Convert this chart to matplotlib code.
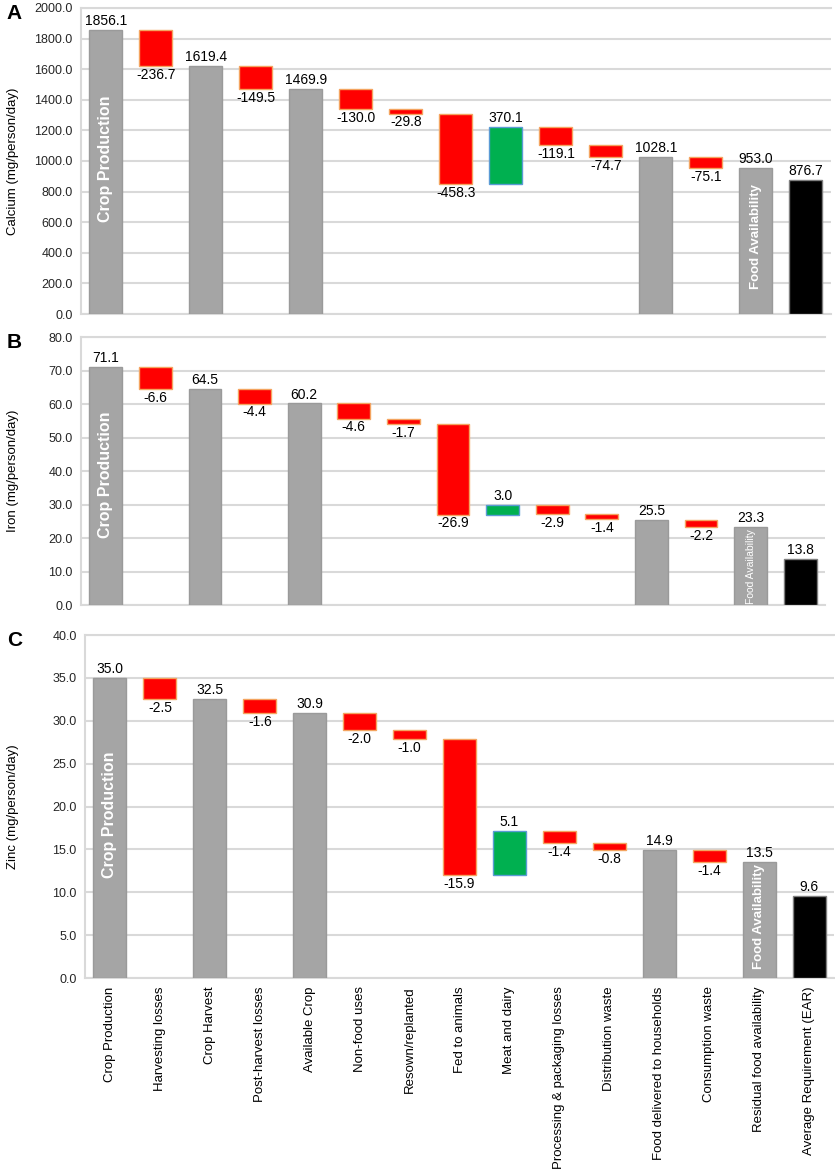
import numpy as np
import matplotlib
matplotlib.use("Agg")
import matplotlib.pyplot as plt

plt.rcParams['font.family'] = ['Liberation Sans', 'DejaVu Sans']

categories = ["Crop Production", "Harvesting losses", "Crop Harvest", "Post-harvest losses",
              "Available Crop", "Non-food uses", "Resown/replanted", "Fed to animals",
              "Meat and dairy", "Processing & packaging losses", "Distribution waste",
              "Food delivered to households", "Consumption waste", "Residual food availability",
              "Average Requirement (EAR)"]
kinds = ["total", "loss", "total", "loss", "total", "loss", "loss", "loss",
         "gain", "loss", "loss", "total", "loss", "total", "ear"]

calcium = [1856.1, -236.7, 1619.4, -149.5, 1469.9, -130.0, -29.8, -458.3,
           370.1, -119.1, -74.7, 1028.1, -75.1, 953.0, 876.7]
iron = [71.1, -6.6, 64.5, -4.4, 60.2, -4.6, -1.7, -26.9,
        3.0, -2.9, -1.4, 25.5, -2.2, 23.3, 13.8]
zinc = [35.0, -2.5, 32.5, -1.6, 30.9, -2.0, -1.0, -15.9,
        5.1, -1.4, -0.8, 14.9, -1.4, 13.5, 9.6]

panels = [
    # letter, values, ylabel, ymax, ystep, axes rect
    ("A", calcium, "Calcium (mg/person/day)", 2000, 200, [0.097, 0.7323, 0.898, 0.2609]),
    ("B", iron, "Iron (mg/person/day)", 80, 10, [0.097, 0.4842, 0.891, 0.2285]),
    ("C", zinc, "Zinc (mg/person/day)", 40, 5, [0.1018, 0.1662, 0.897, 0.2924]),
]

GREY = "#A5A5A5"
RED = "#FF0000"
GREEN = "#00B050"
GRID = "#D9D9D9"

fig = plt.figure(figsize=(8.35, 11.73), dpi=100)

for letter, vals, ylab, ymax, ystep, rect in panels:
    ax = fig.add_axes(rect)
    x = np.arange(len(vals))
    bottoms, heights, colors, edges = [], [], [], []
    running = 0.0
    for v, k in zip(vals, kinds):
        if k == "total":
            bottoms.append(0); heights.append(v); colors.append(GREY); edges.append("#9A9A9A")
            running = v
        elif k == "ear":
            bottoms.append(0); heights.append(v); colors.append("black"); edges.append("#7F7F7F")
        elif k == "loss":
            bottoms.append(running + v); heights.append(-v); colors.append(RED); edges.append("#F4A460")
            running += v
        else:
            bottoms.append(running); heights.append(v); colors.append(GREEN); edges.append("#5B9BD5")
            running += v
    ax.bar(x, heights, bottom=bottoms, width=0.66, color=colors, edgecolor=edges,
           linewidth=1.0, zorder=3)

    off = ymax * 0.006
    for xi, v, k, b, h in zip(x, vals, kinds, bottoms, heights):
        if k == "loss":
            ax.text(xi, b - off, f"{v:.1f}", ha="center", va="top", fontsize=10, zorder=4)
        else:
            ax.text(xi, b + h + off, f"{v:.1f}", ha="center", va="bottom", fontsize=10, zorder=4)

    # text inside the first and the residual bars
    ax.text(0, vals[0] * 0.545, "Crop Production", rotation=90, ha="center", va="center",
            color="white", fontsize=11.5, fontweight="bold", zorder=4)
    if letter == "B":
        ax.text(13, 0.3, "Food Availability", rotation=90, ha="center", va="bottom",
                color="white", fontsize=7.5, zorder=4)
    else:
        ax.text(13, vals[13] * 0.53, "Food Availability", rotation=90, ha="center", va="center",
                color="white", fontsize=9.5, fontweight="bold", zorder=4)

    ax.set_xlim(-0.5, len(vals) - 0.5)
    ax.set_ylim(0, ymax)
    ax.set_yticks(np.arange(0, ymax + ystep / 2, ystep))
    ax.yaxis.set_major_formatter(matplotlib.ticker.FormatStrFormatter("%.1f"))
    ax.yaxis.grid(True, color=GRID, linewidth=1.5, zorder=0)
    ax.set_axisbelow(True)
    ax.tick_params(axis="both", length=0, labelsize=9, labelcolor="#262626", pad=6)
    for s in ["left", "top", "bottom"]:
        ax.spines[s].set_color(GRID)
        ax.spines[s].set_linewidth(1.5)
    ax.spines["right"].set_visible(False)
    ax.set_ylabel(ylab, fontsize=9.5)
    # keep the label just inside the figure's left edge
    ax.yaxis.set_label_coords((19 - rect[0] * 835) / (rect[2] * 835), 0.5)

    ax.set_xticks(x)
    if letter == "C":
        ax.set_xticklabels(categories, rotation=90, fontsize=9.5, color="black")
    else:
        ax.set_xticklabels([])

    fig.text(0.008, rect[1] + rect[3] - 0.005, letter, fontsize=15, fontweight="bold",
             ha="left", va="center")

fig.savefig("out.png", dpi=100)
